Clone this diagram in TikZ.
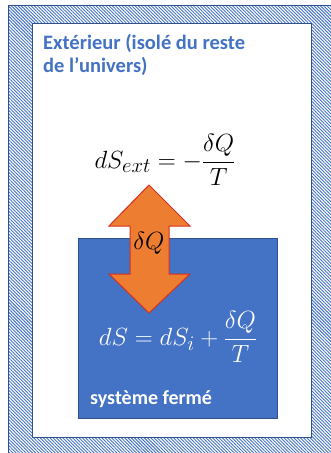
\documentclass[tikz,border=0pt]{standalone}
\usepackage{amsmath}
\usepackage{fontspec}
\setmainfont{Carlito}
\usetikzlibrary{patterns.meta}
\definecolor{accblue}{RGB}{68,114,196}
\definecolor{darkblue}{RGB}{47,82,143}
\definecolor{accorange}{RGB}{237,125,49}
\definecolor{arrowred}{RGB}{214,48,32}
\tikzset{
  hatchframe/.style={pattern={Lines[angle=-45,distance=2.3pt,line width=0.9pt]},pattern color=accblue},
  framedge/.style={draw=darkblue,line width=0.9pt},
  sysbox/.style={fill=accblue,draw=darkblue,line width=0.6pt},
  heatarrow/.style={fill=accorange,draw=arrowred,line width=1pt,line join=miter},
  titletext/.style={text=accblue,font=\fontsize{20.5}{23}\selectfont\bfseries,align=left,inner sep=0pt},
  systext/.style={text=white,font=\fontsize{20}{23}\selectfont\bfseries,inner sep=0pt},
  eqtext/.style={font=\fontsize{28}{32}\selectfont,inner sep=0pt}
}
\begin{document}
\begin{tikzpicture}[x=1pt,y=-1pt]
\useasboundingbox (0,0) rectangle (331,453);
\fill[white] (0,0) rectangle (331,453);
% hatched frame
\fill[white,even odd rule] (8,5) rectangle (331,453) (32,23) rectangle (311,437);
\path[hatchframe,even odd rule] (8,5) rectangle (331,453) (32,23) rectangle (311,437);
\draw[framedge] (331,5) -- (8,5) -- (8,453);
\draw[framedge] (32,23) rectangle (311,437);
% title
\node[titletext,anchor=base west] (title1) at (43,49) {Extérieur (isolé du reste};
\node[titletext,anchor=base west] (title2) at (43,72) {de l’univers)};
% external entropy
\node[eqtext,anchor=center] (eqext) at (165,160) {$dS_{ext}=-\dfrac{\delta Q}{T}$};
% system box
\path[sysbox] (78,238) rectangle (277,418);
\node[systext,anchor=base west] (sys) at (90,404) {système fermé};
% heat arrow
\path[heatarrow] (149,185) -- (190,226) -- (169,226) -- (169,274) -- (190,274) -- (149,313)
  -- (109,274) -- (130,274) -- (130,226) -- (109,226) -- cycle;
\node[eqtext,anchor=center] (dq) at (149,243) {$\delta Q$};
% system entropy
\node[eqtext,anchor=center,text=white] (eqsys) at (178,337) {$dS=dS_i+\dfrac{\delta Q}{T}$};
\end{tikzpicture}
\end{document}
